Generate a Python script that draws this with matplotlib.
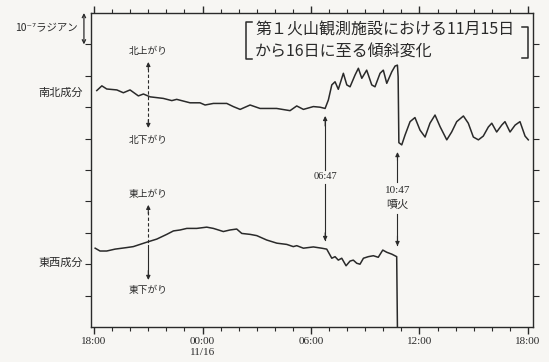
import matplotlib
matplotlib.use('Agg')
import matplotlib.pyplot as plt
import matplotlib.transforms as mtrans
from matplotlib.lines import Line2D
from matplotlib.ticker import MultipleLocator, FixedLocator

plt.rcParams['font.family'] = ['Noto Sans CJK JP', 'DejaVu Sans']

# time in hours after 18:00 (11/15), tilt in units of 1e-7 radian (traces offset)
ns_hours = [0.15, 0.43, 0.70, 1.26, 1.62, 1.99, 2.45, 2.73, 3.10, 3.83, 4.30, 4.57,
            5.31, 5.86, 6.14, 6.60, 7.34, 7.70, 8.08, 8.63, 9.18, 10.10, 10.84,
            11.21, 11.58, 12.13, 12.50, 12.78,
            12.96, 13.15, 13.33, 13.51, 13.79, 13.98, 14.16, 14.44, 14.62, 14.81,
            15.08, 15.36, 15.54, 15.82, 16.00, 16.19, 16.47, 16.65, 16.78, 16.82,
            16.86, 17.02, 17.20, 17.48, 17.75, 18.03, 18.31, 18.58, 18.86, 19.14,
            19.51, 19.78, 20.06, 20.43, 20.70, 20.98, 21.26, 21.53, 21.81, 22.00,
            22.27, 22.55, 22.73, 23.01, 23.29, 23.56, 23.84, 24.02]
ns_tilt = [7.53, 7.68, 7.58, 7.55, 7.46, 7.55, 7.36, 7.42, 7.33, 7.28, 7.21, 7.25,
           7.14, 7.14, 7.07, 7.12, 7.12, 7.02, 6.93, 7.07, 6.96, 6.96, 6.89,
           7.04, 6.93, 7.02, 7.00, 6.96,
           7.23, 7.71, 7.81, 7.57, 8.08, 7.71, 7.65, 8.03, 8.24, 7.92,
           8.18, 7.71, 7.65, 8.08, 8.18, 7.76, 8.13, 8.31, 8.34, 7.97,
           5.87, 5.80, 6.11, 6.54, 6.67, 6.27, 6.05, 6.49, 6.75, 6.38,
           5.96, 6.21, 6.54, 6.72, 6.49, 6.05, 5.96, 6.08, 6.37, 6.49,
           6.21, 6.43, 6.54, 6.21, 6.43, 6.54, 6.08, 5.96]

ew_hours = [0.06, 0.33, 0.70, 1.16, 1.81, 2.17, 2.54, 2.91, 3.47, 4.02, 4.39, 4.76,
            5.13, 5.68, 6.23, 6.60, 6.88, 7.15, 7.52, 7.89, 8.17, 8.63, 9.00,
            9.55, 10.11, 10.66, 11.02, 11.21, 11.58, 12.13, 12.59, 12.87, 13.15,
            13.33, 13.51, 13.70, 13.94, 14.16, 14.34, 14.53, 14.71, 14.90, 15.17,
            15.45, 15.72, 15.97, 16.19, 16.47, 16.74, 16.78]
ew_tilt = [2.51, 2.42, 2.42, 2.48, 2.53, 2.56, 2.63, 2.70, 2.80, 2.95, 3.06, 3.09,
           3.14, 3.14, 3.18, 3.14, 3.09, 3.04, 3.09, 3.12, 2.98, 2.95, 2.91,
           2.77, 2.67, 2.63, 2.56, 2.59, 2.51, 2.55, 2.51, 2.48, 2.19,
           2.24, 2.13, 2.19, 1.95, 2.10, 2.13, 2.03, 2.00, 2.19, 2.24,
           2.27, 2.22, 2.45, 2.38, 2.32, 2.24, 0.0]

tick_hours = [0, 6, 12, 18, 24]
tick_labels = ['18:00', '00:00\n11/16', '06:00', '12:00', '18:00']
onset_hour = 12 + 47 / 60      # 06:47
eruption_hour = 16 + 47 / 60   # 10:47

ink = '#2a2a2a'
W, H = 549, 362


def fx(px):
    return px / W


def fy(py):
    return 1 - py / H


fig = plt.figure(figsize=(W / 100, H / 100), dpi=100, facecolor='#f7f6f3')
ax = fig.add_axes([fx(91), fy(327), fx(533) - fx(91), fy(13) - fy(327)])
ax.set_facecolor('#f7f6f3')

ax.plot(ns_hours, ns_tilt, color=ink, lw=1.1)
ax.plot(ew_hours, ew_tilt, color=ink, lw=1.1)

ax.set_xlim(-0.17, 24.28)
ax.set_ylim(0, 10)

for s in ax.spines.values():
    s.set_color(ink)
    s.set_linewidth(1.0)

ax.xaxis.set_major_locator(FixedLocator(tick_hours))
ax.xaxis.set_minor_locator(MultipleLocator(1))
ax.set_xticklabels(tick_labels, family=['Liberation Serif', 'DejaVu Serif'], fontsize=8)
for t in ax.get_xticklabels():
    t.set_linespacing(1.2)
ax.yaxis.set_major_locator(FixedLocator(range(1, 10)))
ax.set_yticklabels([])
ax.tick_params(axis='x', which='both', direction='out', top=True, color=ink,
               labelcolor=ink, pad=2.5)
ax.tick_params(axis='x', which='major', length=5, width=1)
ax.tick_params(axis='x', which='minor', length=3, width=0.8)
ax.tick_params(axis='y', which='major', direction='out', right=True, length=4,
               width=0.8, color=ink)

# component names on the left
ytr = mtrans.blended_transform_factory(ax.transAxes, ax.transData)
ax.text(-0.018, 7.45, '南北成分', transform=ytr, ha='right', va='center',
        fontsize=8, color=ink)
ax.text(-0.018, 2.04, '東西成分', transform=ytr, ha='right', va='center',
        fontsize=8, color=ink)

# 1e-7 radian scale bar
ax.annotate('', xy=(-0.016, 10), xytext=(-0.016, 9), xycoords=ytr, textcoords=ytr,
            annotation_clip=False,
            arrowprops=dict(arrowstyle='<->', color=ink, lw=0.9, mutation_scale=6,
                            shrinkA=0, shrinkB=0))
ax.text(-0.03, 9.5, '10⁻⁷ラジアン', transform=ytr, ha='right', va='center',
        fontsize=7.5, color=ink)


def small_head(x, y_from, y_to):
    ax.annotate('', xy=(x, y_to), xytext=(x, y_from),
                arrowprops=dict(arrowstyle='-|>', color=ink, lw=0.8,
                                mutation_scale=6, shrinkA=0, shrinkB=0))


# direction arrows (dashed)
dir_hour = 3.0
ax.plot([dir_hour, dir_hour], [8.40, 6.40], color=ink, lw=0.8, ls=(0, (3, 2)))
small_head(dir_hour, 8.2, 8.44)
small_head(dir_hour, 6.6, 6.34)
ax.text(dir_hour, 8.78, '北上がり', ha='center', va='center', fontsize=7, color=ink)
ax.text(dir_hour, 5.96, '北下がり', ha='center', va='center', fontsize=7, color=ink)

ax.plot([dir_hour, dir_hour], [3.85, 2.6], color=ink, lw=0.8, ls=(0, (3, 2)))
ax.plot([dir_hour, dir_hour], [2.6, 1.55], color=ink, lw=0.8)
small_head(dir_hour, 3.6, 3.89)
small_head(dir_hour, 1.8, 1.50)
ax.text(dir_hour, 4.22, '東上がり', ha='center', va='center', fontsize=7, color=ink)
ax.text(dir_hour, 1.18, '東下がり', ha='center', va='center', fontsize=7, color=ink)

# 06:47 marker
ax.plot([onset_hour, onset_hour], [6.69, 5.0], color=ink, lw=0.8)
ax.plot([onset_hour, onset_hour], [4.55, 2.77], color=ink, lw=0.8)
small_head(onset_hour, 6.4, 6.72)
small_head(onset_hour, 3.0, 2.74)
ax.text(onset_hour, 4.78, '06:47', ha='center', va='center', fontsize=7.5,
        family=['Liberation Serif', 'DejaVu Serif'], color=ink)

# 10:47 eruption marker
ax.plot([eruption_hour, eruption_hour], [5.54, 4.62], color=ink, lw=0.8)
ax.plot([eruption_hour, eruption_hour], [3.6, 2.61], color=ink, lw=0.8)
small_head(eruption_hour, 5.3, 5.57)
small_head(eruption_hour, 2.9, 2.58)
ax.text(eruption_hour, 4.36, '10:47', ha='center', va='center', fontsize=8,
        family=['Liberation Serif', 'DejaVu Serif'], color=ink)
ax.text(eruption_hour, 3.89, '噴火', ha='center', va='center', fontsize=8, color=ink)

# bracketed title
fig.add_artist(Line2D([fx(252), fx(246), fx(246), fx(252)],
                      [fy(22), fy(22), fy(59), fy(59)], color=ink, lw=1.1))
fig.add_artist(Line2D([fx(522), fx(528), fx(528), fx(522)],
                      [fy(27), fy(27), fy(58), fy(58)], color=ink, lw=1.1))
fig.text(fx(255), fy(30), '第１火山観測施設における11月15日', ha='left', va='center',
         fontsize=11.5, color=ink)
fig.text(fx(255), fy(52), 'から16日に至る傾斜変化', ha='left', va='center',
         fontsize=11.5, color=ink)

fig.savefig('out.png', dpi=100, facecolor=fig.get_facecolor())
